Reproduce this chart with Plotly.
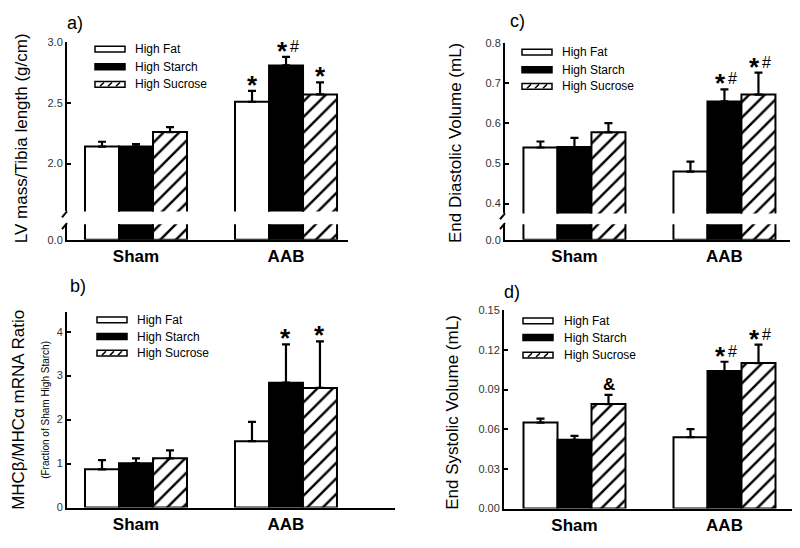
import plotly.graph_objects as go

# ---------------- data ----------------
groups = ["Sham", "AAB"]
diets = ["High Fat", "High Starch", "High Sucrose"]

# a) LV mass / tibia length (g/cm)  [Sham, AAB]
lv_mass_fat = [2.14, 2.51]
lv_mass_starch = [2.14, 2.81]
lv_mass_sucrose = [2.26, 2.57]
lv_mass_fat_err = [0.04, 0.09]
lv_mass_starch_err = [0.02, 0.07]
lv_mass_sucrose_err = [0.04, 0.10]

# b) MHCb/MHCa mRNA ratio
mhc_fat = [0.87, 1.51]
mhc_starch = [1.01, 2.84]
mhc_sucrose = [1.12, 2.72]
mhc_fat_err = [0.21, 0.44]
mhc_starch_err = [0.11, 0.87]
mhc_sucrose_err = [0.18, 1.06]

# c) End diastolic volume (mL)
edv_fat = [0.540, 0.480]
edv_starch = [0.541, 0.655]
edv_sucrose = [0.578, 0.672]
edv_fat_err = [0.015, 0.025]
edv_starch_err = [0.023, 0.030]
edv_sucrose_err = [0.023, 0.055]

# d) End systolic volume (mL)
esv_fat = [0.065, 0.054]
esv_starch = [0.052, 0.104]
esv_sucrose = [0.079, 0.110]
esv_fat_err = [0.003, 0.006]
esv_starch_err = [0.003, 0.007]
esv_sucrose_err = [0.007, 0.014]

# significance labels: [diet][group]
sig_a = [["", "*"], ["", "*#"], ["", "*"]]
sig_b = [["", ""], ["", "*"], ["", "*"]]
sig_c = [["", ""], ["", "*#"], ["", "*#"]]
sig_d = [["", ""], ["", "*#"], ["&", "*#"]]

tick_a = [2.0, 2.5, 3.0]
tick_b = [0, 1, 2, 3, 4]
tick_c = [0.4, 0.5, 0.6, 0.7, 0.8]
tick_d = [0.00, 0.03, 0.06, 0.09, 0.12, 0.15]

# ---------------- helpers ----------------
OFF = 8                      # page body margin
W, H = 800 - 2 * OFF, 548 - 2 * OFF
FONT = "Liberation Sans, Arial, sans-serif"


def px(x):
    return (x - OFF) / W


def py(y):
    return 1 - (y - OFF) / H


BARGAP = 0.32
BW = (1 - BARGAP) / 3
xpos = [0, 1]

styles = [
    dict(color="white", pattern=None),
    dict(color="black", pattern=None),
    dict(color="white", pattern=dict(shape="/", fgcolor="black", bgcolor="white",
                                     size=11, solidity=0.22, fillmode="replace")),
]

fig = go.Figure()


def add_bars(xa, ya, means, errs, with_err=True):
    for i, (m, e) in enumerate(zip(means, errs)):
        marker = dict(color=styles[i]["color"], line=dict(color="black", width=2))
        if styles[i]["pattern"]:
            marker["pattern"] = styles[i]["pattern"]
        kw = {}
        if with_err:
            kw["error_y"] = dict(type="data", symmetric=False, array=e,
                                 arrayminus=[0] * len(e), color="black",
                                 thickness=2.2, width=4)
        fig.add_trace(go.Bar(x=xpos, y=m, name=diets[i], marker=marker,
                             xaxis=xa, yaxis=ya, showlegend=False, **kw))


def add_sig(xa, ya, means, errs, sig):
    for i in range(3):
        for g in range(2):
            lab = sig[i][g]
            if not lab:
                continue
            x = xpos[g] + (i - 1) * BW
            y = means[i][g] + errs[i][g]
            if lab == "&":
                fig.add_annotation(x=x, y=y, xref=xa, yref=ya, text="<b>&amp;</b>",
                                   showarrow=False, xanchor="center", yanchor="bottom",
                                   yshift=-1, font=dict(family=FONT, size=17, color="black"))
                continue
            has_hash = "#" in lab
            fig.add_annotation(x=x, y=y, xref=xa, yref=ya, text="<b>*</b>",
                               showarrow=False, xanchor="center", yanchor="bottom",
                               xshift=-4 if has_hash else 0, yshift=-11,
                               font=dict(family=FONT, size=26, color="black"))
            if has_hash:
                fig.add_annotation(x=x, y=y, xref=xa, yref=ya, text="#",
                                   showarrow=False, xanchor="center", yanchor="bottom",
                                   xshift=8, yshift=0,
                                   font=dict(family=FONT, size=16, color="black"))


# panel a: broken axis (upper + lower)
A_m = [lv_mass_fat, lv_mass_starch, lv_mass_sucrose]
A_e = [lv_mass_fat_err, lv_mass_starch_err, lv_mass_sucrose_err]
add_bars("x", "y", A_m, A_e)
add_bars("x", "y2", A_m, A_e, with_err=False)
add_sig("x", "y", A_m, A_e, sig_a)

B_m = [mhc_fat, mhc_starch, mhc_sucrose]
B_e = [mhc_fat_err, mhc_starch_err, mhc_sucrose_err]
add_bars("x2", "y3", B_m, B_e)
add_sig("x2", "y3", B_m, B_e, sig_b)

C_m = [edv_fat, edv_starch, edv_sucrose]
C_e = [edv_fat_err, edv_starch_err, edv_sucrose_err]
add_bars("x3", "y4", C_m, C_e)
add_bars("x3", "y5", C_m, C_e, with_err=False)
add_sig("x3", "y4", C_m, C_e, sig_c)

D_m = [esv_fat, esv_starch, esv_sucrose]
D_e = [esv_fat_err, esv_starch_err, esv_sucrose_err]
add_bars("x4", "y6", D_m, D_e)
add_sig("x4", "y6", D_m, D_e, sig_d)

ticktext_x = ["<b>%s</b>" % g for g in groups]


def xaxis(dom, rng, anchor):
    return dict(domain=dom, range=rng, anchor=anchor, showline=True, linewidth=2,
                linecolor="black", ticks="", tickvals=xpos, ticktext=ticktext_x,
                tickfont=dict(family=FONT, size=17, color="black"),
                showgrid=False, zeroline=False, fixedrange=True)


def yaxis(dom, rng, anchor, tv, fmt):
    return dict(domain=dom, range=rng, anchor=anchor, showline=True, linewidth=2,
                linecolor="black", ticks="inside", ticklen=4, tickwidth=1.5,
                tickcolor="black", tickvals=tv, tickformat=fmt,
                tickfont=dict(family=FONT, size=11, color="#333"),
                showgrid=False, zeroline=False, fixedrange=True)


fig.update_layout(
    width=W, height=H, margin=dict(l=0, r=0, t=0, b=0),
    paper_bgcolor="white", plot_bgcolor="white",
    barmode="group", bargap=BARGAP, bargroupgap=0,
    showlegend=False,
    xaxis=xaxis([px(67), px(348)], [-0.46, 1.413], "y2"),
    yaxis=yaxis([py(210), py(37)], [1.605, 3.0], "x", tick_a, ".1f"),
    yaxis2=yaxis([py(239), py(223)], [0, 0.2], "x", [0], ".1f"),
    xaxis2=xaxis([px(67), px(395)], [-0.46, 1.727], "y3"),
    yaxis3=yaxis([py(513), py(313)], [0, 4.444], "x2", tick_b, "d"),
    xaxis3=xaxis([px(505), px(790)], [-0.463, 1.437], "y5"),
    yaxis4=yaxis([py(212), py(38)], [0.3756, 0.8], "x3", tick_c, ".1f"),
    yaxis5=yaxis([py(239), py(223)], [0, 0.2], "x3", [0], ".1f"),
    xaxis4=xaxis([px(504), px(792)], [-0.47, 1.45], "y6"),
    yaxis6=yaxis([py(514), py(311)], [0, 0.15], "x4", tick_d, ".2f"),
)

# ---------------- decorations: breaks, legends, labels ----------------
shapes = []
# axis break marks
for (ax, ytop, ybot) in [(67, 210, 223), (505, 212, 223)]:
    shapes.append(dict(type="line", xref="paper", yref="paper", x0=px(ax - 5), y0=py(ytop + 6),
                       x1=px(ax), y1=py(ytop), line=dict(color="black", width=2)))
    shapes.append(dict(type="line", xref="paper", yref="paper", x0=px(ax - 5), y0=py(ybot + 5),
                       x1=px(ax), y1=py(ybot - 1), line=dict(color="black", width=2)))

legend_pos = [  # (swatch x0, swatch x1, text x, y rows)
    (95, 125, 133, [44, 62, 80]),
    (97, 127, 135, [321, 338, 355]),
    (522, 552, 560, [47, 65, 82]),
    (523, 553, 562, [322, 339, 357]),
]
for (x0, x1, tx, rows) in legend_pos:
    for i, yy in enumerate(rows):
        fill = styles[i]["color"]
        shapes.append(dict(type="rect", xref="paper", yref="paper", x0=px(x0), x1=px(x1),
                           y0=py(yy + 3), y1=py(yy - 3), fillcolor=fill,
                           line=dict(color="black", width=1.5)))
        if i == 2:
            for k in range(3):
                cx = x0 + 7 + k * 8
                shapes.append(dict(type="line", xref="paper", yref="paper",
                                   x0=px(cx - 2), y0=py(yy + 2), x1=px(cx + 2), y1=py(yy - 2),
                                   line=dict(color="black", width=1.5)))
        fig.add_annotation(xref="paper", yref="paper", x=px(tx), y=py(yy), text=diets[i],
                           showarrow=False, xanchor="left", yanchor="middle",
                           font=dict(family=FONT, size=12, color="black"))
fig.update_layout(shapes=shapes)

# panel labels
for (lab, x, y) in [("a)", 75, 17), ("b)", 78, 286), ("c)", 517, 15), ("d)", 512, 292)]:
    fig.add_annotation(xref="paper", yref="paper", x=px(x), y=py(y), text=lab, showarrow=False,
                       xanchor="center", yanchor="middle",
                       font=dict(family=FONT, size=18, color="black"))

# y-axis titles
for (lab, x, y, fs) in [
    ("LV mass/Tibia length (g/cm)", 21, 135, 17),
    ("End Diastolic Volume (mL)", 455, 140, 17),
    ("MHCβ/MHCα mRNA Ratio", 19, 413, 17),
    ("(Fraction of Sham High Starch)", 46, 413, 10),
    ("End Systolic Volume (mL)", 453, 415, 17),
]:
    fig.add_annotation(xref="paper", yref="paper", x=px(x), y=py(y), text=lab, showarrow=False,
                       textangle=-90, xanchor="center", yanchor="middle",
                       font=dict(family=FONT, size=fs, color="black"))

fig.write_html("out.html")
